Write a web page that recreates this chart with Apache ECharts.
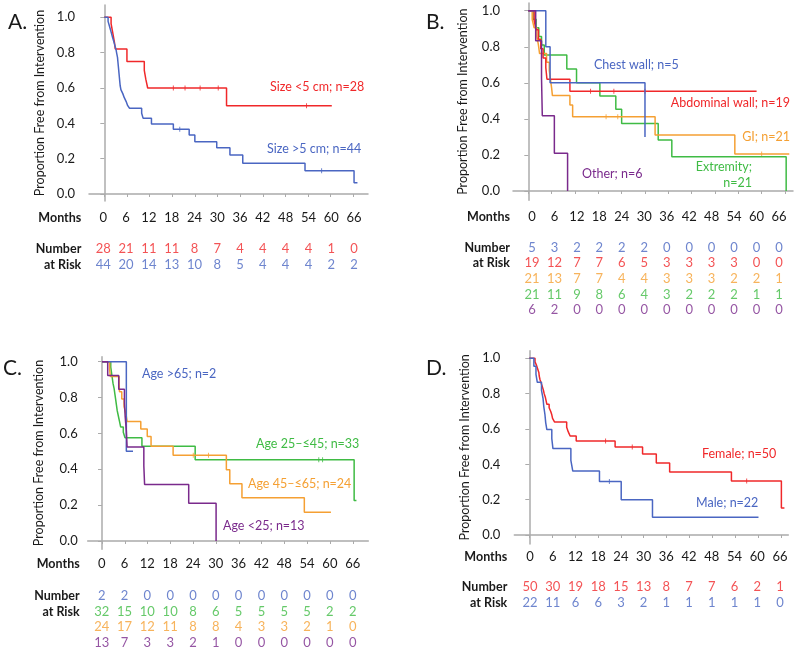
<!DOCTYPE html>
<html><head><meta charset="utf-8">
<script src="https://cdn.jsdelivr.net/npm/echarts@6/dist/echarts.min.js"></script>
<style>html,body{margin:0;padding:0;background:#fff}#c{width:800px;height:652px}</style>
</head><body><div id="c"></div>
<script>
// ---------- shared ticks ----------
const MONTHS = [0,6,12,18,24,30,36,42,48,54,60,66];
const Y_TICKS = [0,0.2,0.4,0.6,0.8,1];

// ---------- Panel A: tumour size ----------
const A_lt5 = [[0,1],[1.8,0.964],[2.1,0.929],[2.4,0.893],[2.7,0.857],[2.9,0.821],[6.0,0.75],[10.6,0.70],[11.0,0.65],[11.5,0.60],[32.4,0.50],[60.3,0.50]];
const A_gt5 = [[0,1],[1.0,0.977],[1.3,0.955],[1.6,0.932],[1.9,0.909],[2.2,0.886],[2.5,0.864],[2.8,0.841],[3.1,0.818],[3.3,0.795],[3.5,0.773],[3.6,0.75],[3.7,0.727],[3.8,0.705],[3.9,0.682],[4.0,0.659],[4.1,0.636],[4.2,0.614],[4.4,0.591],[4.9,0.568],[5.3,0.545],[5.8,0.523],[6.2,0.50],[6.7,0.485],[9.9,0.457],[10.3,0.428],[12.5,0.396],[18.3,0.366],[22.5,0.334],[24.0,0.296],[29.8,0.262],[33.3,0.221],[36.7,0.174],[53.2,0.132],[66.2,0.064],[67.1,0.064]];
const A_lt5_cens = [[18.3,0.60],[21.4,0.60],[25.4,0.60],[30.2,0.60],[53.6,0.50]];
const A_gt5_cens = [[20.0,0.366],[57.6,0.132]];
const A_risk_lt5 = [28,21,11,11,8,7,4,4,4,4,1,0];
const A_risk_gt5 = [44,20,14,13,10,8,5,4,4,4,2,2];

// ---------- Panel B: location ----------
const B_chest = [[0,1],[4.5,0.8],[5.6,0.6],[30.0,0.3]];
const B_abdo = [[0,1],[1.5,0.947],[2.0,0.895],[2.6,0.842],[3.2,0.789],[3.8,0.737],[4.5,0.684],[4.8,0.62],[10.7,0.553],[58.7,0.553]];
const B_gi = [[0,1],[1.0,0.952],[1.5,0.905],[2.2,0.857],[2.6,0.81],[2.9,0.762],[4.7,0.714],[5.4,0.667],[5.7,0.619],[6.0,0.571],[6.2,0.529],[10.7,0.477],[11.4,0.412],[32.6,0.31],[53.1,0.205],[67.1,0.205]];
const B_ext = [[0,1],[1.2,0.952],[2.0,0.905],[2.7,0.857],[3.4,0.81],[4.1,0.754],[9.9,0.677],[12.4,0.60],[18.4,0.527],[22.5,0.453],[24.0,0.375],[33.4,0.283],[36.9,0.19],[66.3,0.0]];
const B_other = [[0,1],[1.9,0.833],[3.4,0.625],[3.6,0.417],[6.7,0.209],[10.1,0.0]];
const B_abdo_cens = [[16,0.553],[22,0.553],[30,0.553]];
const B_gi_cens = [[20,0.412],[23,0.412],[60,0.205]];
const B_risk_chest = [5,3,2,2,2,2,0,0,0,0,0,0];
const B_risk_abdo = [19,12,7,7,6,5,3,3,3,3,0,0];
const B_risk_gi = [21,13,7,7,4,4,3,3,3,2,2,1];
const B_risk_ext = [21,11,9,8,6,4,3,2,2,2,1,1];
const B_risk_other = [6,2,0,0,0,0,0,0,0,0,0,0];

// ---------- Panel C: age ----------
const C_gt65 = [[0,1],[6.4,0.5],[8.15,0.5]];
const C_25_45 = [[0,1],[2.3,0.97],[2.5,0.939],[2.7,0.909],[2.9,0.879],[3.2,0.848],[3.4,0.818],[3.6,0.788],[3.8,0.758],[4.0,0.727],[4.3,0.697],[4.6,0.667],[4.9,0.636],[5.6,0.606],[6.05,0.576],[10.5,0.528],[24.5,0.453],[66.3,0.226],[66.9,0.226]];
const C_45_65 = [[0,1],[2.0,0.958],[2.2,0.917],[4.5,0.875],[4.6,0.833],[5.2,0.792],[5.8,0.75],[6.3,0.708],[6.6,0.667],[10.2,0.625],[11.9,0.583],[12.9,0.528],[18.7,0.478],[32.7,0.397],[33.6,0.319],[36.8,0.241],[53.2,0.16],[60.2,0.16]];
const C_lt25 = [[0,1],[1.5,0.923],[4.4,0.846],[5.9,0.769],[6.1,0.692],[6.4,0.615],[6.6,0.524],[11.0,0.42],[11.2,0.315],[22.8,0.21],[30.0,0.0]];
const C_25_45_cens = [[57,0.453],[58,0.453]];
const C_45_65_cens = [[24,0.478],[28,0.478]];
const C_risk_gt65 = [2,2,0,0,0,0,0,0,0,0,0,0];
const C_risk_25_45 = [32,15,10,10,8,6,5,5,5,5,2,2];
const C_risk_45_65 = [24,17,12,11,8,8,4,3,3,2,1,0];
const C_risk_lt25 = [13,7,3,3,2,1,0,0,0,0,0,0];

// ---------- Panel D: sex ----------
const D_female = [[0,1],[1.5,0.98],[1.9,0.96],[2.2,0.94],[2.5,0.92],[2.6,0.90],[2.8,0.88],[3.1,0.86],[3.4,0.84],[3.7,0.82],[3.9,0.80],[4.2,0.78],[4.4,0.76],[4.6,0.74],[5.2,0.72],[5.6,0.70],[5.9,0.68],[6.1,0.66],[6.6,0.64],[9.8,0.61],[10.2,0.585],[10.7,0.56],[12.3,0.532],[22.5,0.498],[29.7,0.458],[33.3,0.407],[36.8,0.356],[53.0,0.305],[66.1,0.153],[66.9,0.153]];
const D_male = [[0,1],[1.2,0.955],[1.75,0.909],[2.1,0.864],[3.2,0.818],[3.6,0.773],[3.8,0.727],[4.1,0.682],[4.3,0.636],[4.6,0.597],[5.9,0.545],[6.2,0.489],[10.9,0.422],[11.4,0.362],[18.4,0.303],[24.1,0.2],[32.3,0.1],[60.1,0.1]];
const D_female_cens = [[20,0.532],[27,0.498],[57,0.305]];
const D_male_cens = [[21,0.303]];
const D_risk_female = [50,30,19,18,15,13,8,7,7,6,2,1];
const D_risk_male = [22,11,6,6,3,2,1,1,1,1,1,0];

// ---------- styles ----------
const RED = '#f0282a', BLUE = '#4a66c2', ORANGE = '#f5a033', GREEN = '#3fbb44', PURPLE = '#7a2a8c';
const AX = '#ababab', TXT = '#1a1a1a';
const FONT = 'Lato, "Open Sans", sans-serif';
const FS = 12.5;
const YTITLE = 'Proportion Free from Intervention';

const panels = [
  { letter:'A.', lx:8, ly:23,
    plot:{l:89,t:5,r:368,b:201,x0:104.3,x66:353.3,y1:17.3,y0:194}, yLabMargin:14, nameGap:43,
    table:{l:103.3,r:354,first:249.3,step:15.3,monthsY:218.3,labMargin:22},
    curves:[{d:A_lt5,c:RED,cens:A_lt5_cens},{d:A_gt5,c:BLUE,cens:A_gt5_cens}],
    risk:[{v:A_risk_lt5,c:RED},{v:A_risk_gt5,c:BLUE}],
    notes:[{t:'Size <5 cm; n=28',x:270,y:87,c:RED,a:'left'},{t:'Size >5 cm; n=44',x:267,y:149,c:BLUE,a:'left'}] },
  { letter:'B.', lx:426, ly:23,
    plot:{l:513,t:3,r:793,b:200.3,x0:528.3,x66:785,y1:10.7,y0:191}, yLabMargin:13, nameGap:44,
    table:{l:532,r:779,first:247.7,step:15.6,monthsY:217.3,labMargin:22},
    curves:[{d:B_ext,c:GREEN},{d:B_gi,c:ORANGE,cens:B_gi_cens},{d:B_abdo,c:RED,cens:B_abdo_cens},{d:B_chest,c:BLUE},{d:B_other,c:PURPLE}],
    risk:[{v:B_risk_chest,c:BLUE},{v:B_risk_abdo,c:RED},{v:B_risk_gi,c:ORANGE},{v:B_risk_ext,c:GREEN},{v:B_risk_other,c:PURPLE}],
    notes:[{t:'Chest wall; n=5',x:594,y:65,c:BLUE,a:'left'},{t:'Abdominal wall; n=19',x:790,y:103.3,c:RED,a:'right'},
           {t:'GI; n=21',x:790,y:136.7,c:ORANGE,a:'right'},{t:'Extremity;',x:752,y:166.7,c:GREEN,a:'right'},
           {t:'n=21',x:752,y:182.7,c:GREEN,a:'right'},{t:'Other; n=6',x:582,y:174,c:PURPLE,a:'left'}] },
  { letter:'C.', lx:3, ly:369,
    plot:{l:87.7,t:356.7,r:368.3,b:549.3,x0:102,x66:353,y1:361.7,y0:541}, yLabMargin:10, nameGap:42,
    table:{l:101.7,r:352.7,first:596,step:15.57,monthsY:564.3,labMargin:22},
    curves:[{d:C_25_45,c:GREEN,cens:C_25_45_cens},{d:C_45_65,c:ORANGE,cens:C_45_65_cens},{d:C_gt65,c:BLUE},{d:C_lt25,c:PURPLE}],
    risk:[{v:C_risk_gt65,c:BLUE},{v:C_risk_25_45,c:GREEN},{v:C_risk_45_65,c:ORANGE},{v:C_risk_lt25,c:PURPLE}],
    notes:[{t:'Age >65; n=2',x:142,y:374,c:BLUE,a:'left'},{t:'Age 25\u2013\u226445; n=33',x:256,y:444.3,c:GREEN,a:'left'},
           {t:'Age 45\u2013\u226465; n=24',x:248,y:484,c:ORANGE,a:'left'},{t:'Age <25; n=13',x:223,y:526,c:PURPLE,a:'left'}] },
  { letter:'D.', lx:426, ly:369,
    plot:{l:514.3,t:350.7,r:788.3,b:544,x0:529.3,x66:781,y1:358.3,y0:535}, yLabMargin:14, nameGap:43,
    table:{l:530,r:780,first:587.3,step:15.4,monthsY:556.7,labMargin:22.7},
    curves:[{d:D_female,c:RED,cens:D_female_cens},{d:D_male,c:BLUE,cens:D_male_cens}],
    risk:[{v:D_risk_female,c:RED},{v:D_risk_male,c:BLUE}],
    notes:[{t:'Female; n=50',x:702,y:454,c:RED,a:'left'},{t:'Male; n=22',x:696,y:503.3,c:BLUE,a:'left'}] }
];

const grid = [], xAxis = [], yAxis = [], series = [], graphic = [];
panels.forEach((p, i) => {
  const P = p.plot, gp = 2*i, gt = 2*i+1;
  const mpp = 66/(P.x66 - P.x0);
  const vpp = 1/(P.y0 - P.y1);
  grid.push({left:P.l, top:P.t, width:P.r-P.l, height:P.b-P.t});
  xAxis.push({gridIndex:gp, type:'value', min:(P.l-P.x0)*mpp, max:(P.r-P.x0)*mpp,
    axisLine:{show:true,lineStyle:{color:AX,width:1.5}},
    axisTick:{show:true,customValues:MONTHS,length:3,lineStyle:{color:AX}},
    axisLabel:{show:false}, splitLine:{show:false}});
  yAxis.push({gridIndex:gp, type:'value', min:(P.y0-P.b)*vpp, max:(P.y0-P.t)*vpp,
    axisLine:{show:true,lineStyle:{color:AX,width:1.5}},
    axisTick:{show:true,customValues:Y_TICKS,length:4,lineStyle:{color:AX}},
    axisLabel:{customValues:Y_TICKS,formatter:v=>v.toFixed(1),margin:p.yLabMargin,fontSize:13,color:TXT,fontFamily:FONT},
    splitLine:{show:false},
    name:YTITLE, nameLocation:'middle', nameGap:p.nameGap,
    nameTextStyle:{fontSize:FS,color:TXT,fontFamily:FONT}});
  p.curves.forEach(cv => {
    series.push({type:'line', xAxisIndex:gp, yAxisIndex:gp, step:'end', data:cv.d, symbol:'none',
      lineStyle:{color:cv.c,width:1.5}, silent:true});
    if (cv.cens) series.push({type:'scatter', xAxisIndex:gp, yAxisIndex:gp, data:cv.cens,
      symbol:'rect', symbolSize:[1,5], itemStyle:{color:cv.c}, silent:true});
  });
  // risk table
  const T = p.table, n = p.risk.length;
  const top = T.first - T.step/2;
  grid.push({left:T.l, top:top, width:T.r-T.l, height:T.step*n});
  xAxis.push({gridIndex:gt, type:'value', min:0, max:66, position:'top', offset:top - T.monthsY,
    axisLine:{show:false}, axisTick:{show:false}, splitLine:{show:false},
    axisLabel:{customValues:MONTHS, margin:0, verticalAlign:'middle', fontSize:13, color:TXT, fontFamily:FONT},
    name:'Months', nameLocation:'start', nameGap:T.labMargin,
    nameTextStyle:{fontSize:FS, fontWeight:'bold', color:TXT, fontFamily:FONT, verticalAlign:'middle'}});
  const rowNames = p.risk.map((r,k) => k===0 ? 'Number' : (k===1 ? 'at Risk' : ''));
  yAxis.push({gridIndex:gt, type:'category', inverse:true, data:rowNames,
    axisLine:{show:false}, axisTick:{show:false}, splitLine:{show:false},
    axisLabel:{interval:0, margin:T.labMargin, fontSize:FS, fontWeight:'bold', color:TXT, fontFamily:FONT}});
  p.risk.forEach((r, k) => {
    series.push({type:'scatter', xAxisIndex:gt, yAxisIndex:gt, symbol:'circle', symbolSize:1,
      itemStyle:{color:'rgba(0,0,0,0)'}, silent:true,
      data: MONTHS.map((m, j) => [m, k, r.v[j]]),
      label:{show:true, position:'inside', formatter:q=>String(q.value[2]), color:r.c, fontSize:13, fontFamily:FONT}});
  });
  graphic.push({type:'text', left:p.lx, top:p.ly-11, style:{text:p.letter, font:'21px '+FONT, fill:TXT}});
  p.notes.forEach(nt => {
    graphic.push({type:'text', x:nt.x, y:nt.y, style:{text:nt.t, fill:nt.c, font:FS+'px '+FONT, align:nt.a, verticalAlign:'middle'}});
  });
});

const chart = echarts.init(document.getElementById('c'), null, {renderer:'canvas'});
chart.setOption({animation:false, backgroundColor:'#fff', grid, xAxis, yAxis, series, graphic});
</script></body></html>
